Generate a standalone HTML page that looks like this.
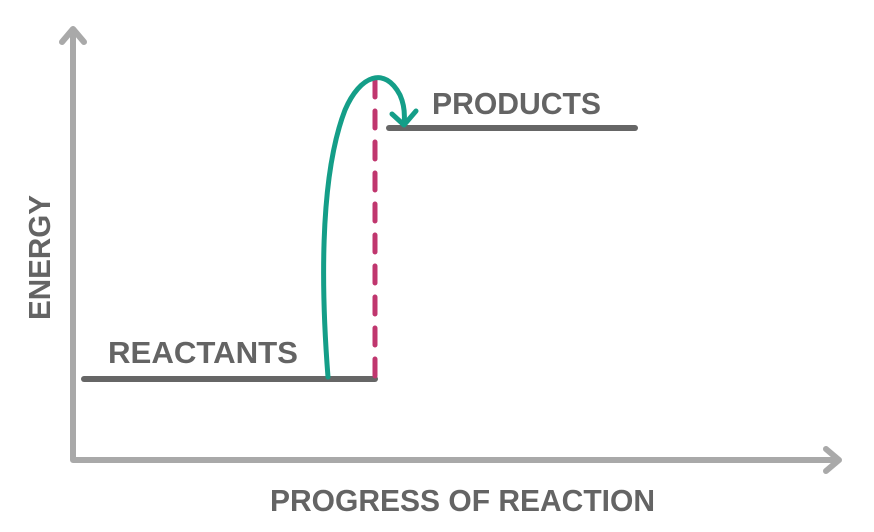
<!DOCTYPE html>
<html><head><style>html,body{margin:0;padding:0;background:#fff}svg{display:block}</style></head>
<body>
<svg width="874" height="532" viewBox="0 0 874 532" xmlns="http://www.w3.org/2000/svg">
<g stroke="#a9a9a9" stroke-width="6" fill="none" stroke-linecap="round" stroke-linejoin="round">
<path d="M73 30 L73 460 L838 460"/>
<path d="M62 42 L73 29 L84 42"/>
<path d="M826 449 L839 460 L826 471"/>
</g>
<g stroke="#666" stroke-width="6" stroke-linecap="round">
<line x1="84" y1="379" x2="375" y2="379"/>
<line x1="389" y1="128" x2="635" y2="128"/>
</g>
<line x1="375" y1="80" x2="375" y2="377" stroke="#c0366e" stroke-width="5" stroke-dasharray="17 14" stroke-linecap="round"/>
<g stroke="#149e88" stroke-width="5" fill="none" stroke-linecap="round" stroke-linejoin="round">
<path d="M328 377 C322 300 318 180 345 110 C360 75 385 66 400 95 C404 104 405 115 404 124"/>
<path d="M392 114 L404 125 L416 111"/>
</g>
<g fill="#646464" font-family="Liberation Sans, sans-serif" font-weight="bold" font-size="31">
<text x="432" y="114" textLength="169" lengthAdjust="spacingAndGlyphs">PRODUCTS</text>
<text x="108" y="363" textLength="190" lengthAdjust="spacingAndGlyphs">REACTANTS</text>
<text x="270" y="511" textLength="385" lengthAdjust="spacingAndGlyphs">PROGRESS OF REACTION</text>
<text transform="translate(50 320) rotate(-90)" textLength="125" lengthAdjust="spacingAndGlyphs">ENERGY</text>
</g>
</svg>
</body></html>
